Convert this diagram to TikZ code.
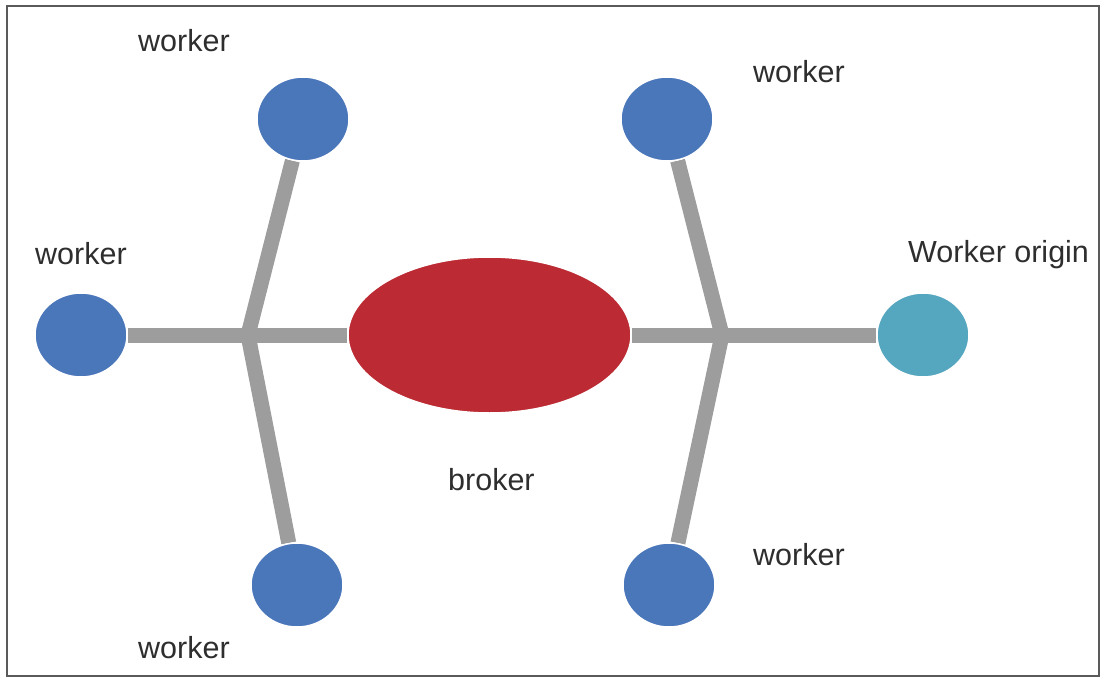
\documentclass[tikz,border=0pt]{standalone}
\usepackage{fontspec}
\setmainfont{Liberation Sans}
\usetikzlibrary{shapes.geometric,backgrounds}
\definecolor{wblue}{HTML}{4A76BA}
\definecolor{bred}{HTML}{BC2A33}
\definecolor{oteal}{HTML}{55A6BF}
\definecolor{lgray}{HTML}{9D9D9D}
\definecolor{txt}{HTML}{2E2E2E}
\definecolor{frame}{HTML}{5A5A5A}
\begin{document}
\begin{tikzpicture}[x=1pt,y=-1pt,
  worker/.style={ellipse,fill=wblue,draw=white,line width=1.5pt,minimum width=92pt,minimum height=84pt,inner sep=0pt},
  origin/.style={worker,fill=oteal},
  brokerbox/.style={ellipse,fill=bred,draw=white,line width=1.5pt,minimum width=283pt,minimum height=156pt,inner sep=0pt},
  lbl/.style={anchor=base west,inner sep=0pt,text=txt,font=\fontsize{30.5}{36}\selectfont},
  bar/.style={draw=lgray,line width=15pt,line cap=butt}]
\useasboundingbox (0,0) rectangle (1105,679);
\draw[frame,line width=2pt] (7,6) rectangle (1099,676);
% junctions
\coordinate (jl) at (248,335);
\coordinate (jr) at (722,335);
% nodes
\node[worker] (tl) at (303,119) {};
\node[worker] (ml) at (81,335) {};
\node[worker] (bl) at (297,585) {};
\node[worker] (tr) at (667,119) {};
\node[worker] (br) at (669,585) {};
\node[origin] (or) at (923,335) {};
\node[brokerbox] (bk) at (489.5,335) {};
% connectors behind the nodes
\begin{scope}[on background layer]
\draw[bar] (tl) -- (jl) -- (bl);
\draw[bar] (ml) -- (bk);
\draw[bar] (tr) -- (jr) -- (br);
\draw[bar] (bk) -- (or);
\end{scope}
% labels
\node[lbl] (t1) at (138,52) {worker};
\node[lbl] (t2) at (35,264) {worker};
\node[lbl] (t3) at (138,658) {worker};
\node[lbl] (t4) at (753,83) {worker};
\node[lbl] (t5) at (753,565) {worker};
\node[lbl] (t6) at (908,262) {Worker origin};
\node[lbl] (t7) at (448,490) {broker};
\end{tikzpicture}
\end{document}
